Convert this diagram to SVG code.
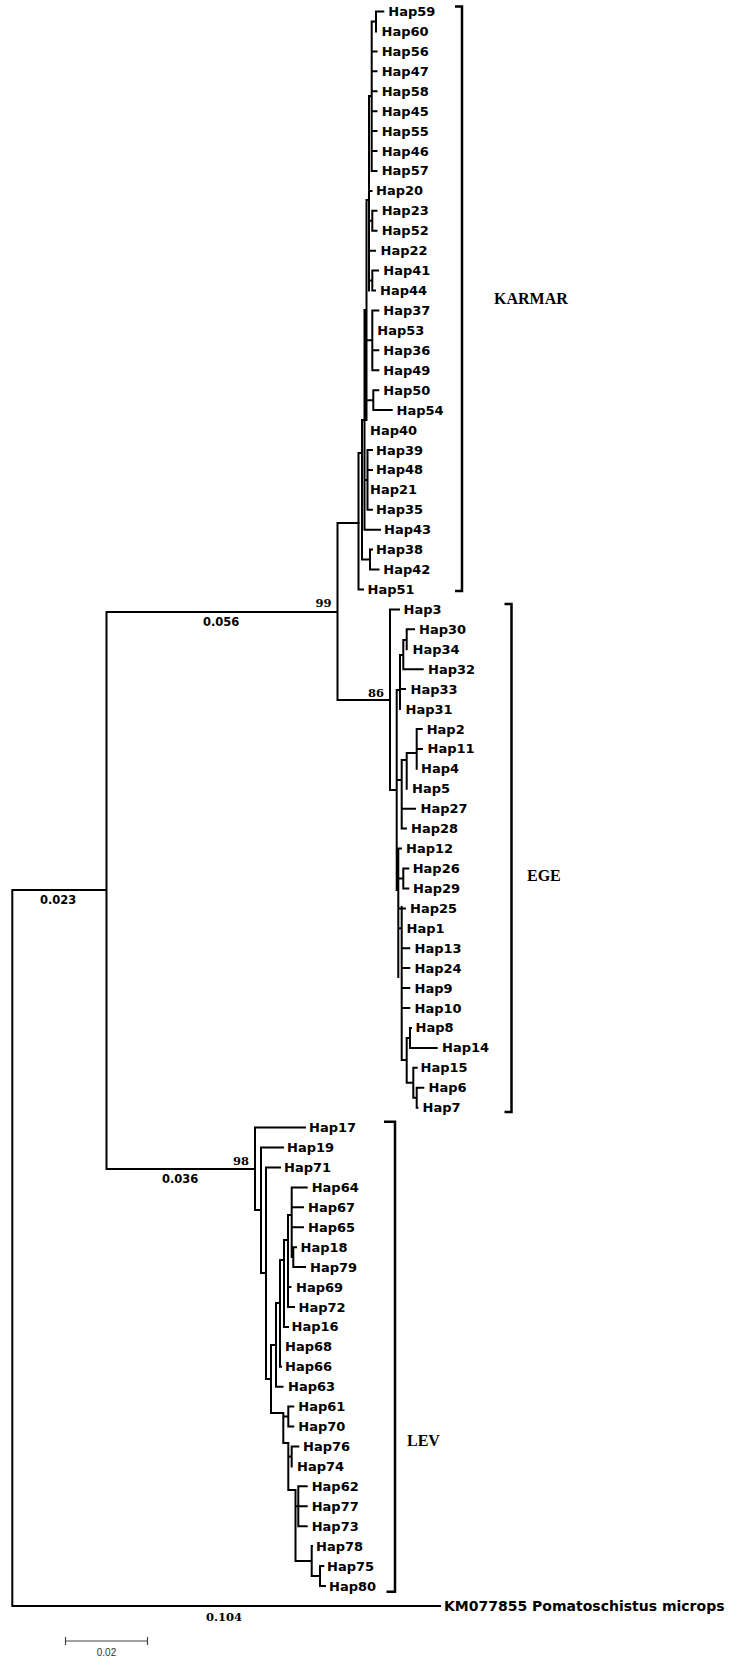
<svg xmlns="http://www.w3.org/2000/svg" width="730" height="1663" viewBox="0 0 730 1663">
<style>
.e{stroke:#000;stroke-width:2;fill:none;stroke-linecap:square}
.br{stroke:#000;stroke-width:2.5;fill:none}
.t{font-family:"DejaVu Sans",sans-serif;font-weight:bold;font-size:13px;fill:#000}
.og{font-family:"DejaVu Sans",sans-serif;font-weight:bold;font-size:14px;fill:#000}
.bl{font-family:"DejaVu Sans",sans-serif;font-weight:bold;font-size:11.5px;fill:#000}
.bs{font-family:"DejaVu Serif",serif;font-weight:bold;font-size:11.5px;fill:#000}
.cl{font-family:"Liberation Serif",serif;font-weight:bold;font-size:16px;fill:#000}
.sb{stroke:#444;stroke-width:1.2;fill:none}
.st{font-family:"Liberation Sans",sans-serif;font-size:10px;fill:#333}
</style>
<rect width="730" height="1663" fill="#fff"/>
<g id="connectors">
<path class="e" d="M12.3,890V1605.9M12.3,890H106.5M12.3,1605.9H440M106.5,612V1169M106.5,612H337.5M106.5,1169H255M337.5,523V700M337.5,523H358.5M337.5,700H390"/>
<path class="e" d="M358.5,453V589.5M358.5,589.5H363M358.5,453H362M362,420V559.5M362,559.5H370M370,549.6V569.5M370,549.6H372M370,569.5H378.5M362,420H364.5M364.5,310V529.7M364.5,529.7H380M364.5,480H367.5M367.5,450V509.8M367.5,450H372M367.5,469.9H372M367.5,509.8H372M364.5,310H366.5M366.5,200V420M366.5,340.3H372.3M372.3,310.5V370.2M372.3,310.5H378.3M372.3,350.3H378.3M372.3,370.2H378.3M366.5,400.2H373.3M373.3,390.2V410.1M373.3,390.2H378.3M373.3,410.1H391.7M366.5,200H369M369,96V290.5M369,190.9H371.5M369,220.8H372.3M372.3,210.8V230.7M372.3,210.8H376.5M372.3,230.7H376.5M369,250.7H375M369,280.5H372.3M372.3,270.6V290.5M372.3,270.6H378M372.3,290.5H375M369,96H371.7M371.7,21.5V170.9M371.7,51.4H376.5M371.7,71.3H376.5M371.7,91.2H376.5M371.7,111.2H376.5M371.7,131.1H376.5M371.7,151H376.5M371.7,170.9H376.5M371.7,21.5H376M376,11.5V31.4M376,11.5H383.3"/>
<path class="e" d="M390,609.4V790M390,609.4H399M390,790H396.7M396.7,690V890M396.7,690H400M400,655V709.1M400,655H403.3M403.3,640V669.2M403.3,640H406.7M406.7,629.3V649.3M406.7,629.3H414M403.3,669.2H422.7M400,689.1H405M396.7,780H401.7M401.7,760V828.6M401.7,760H406.7M406.7,753V788.8M406.7,753H416.7M416.7,729V768.8M416.7,729H421.7M416.7,748.9H422M401.7,808.7H415M401.7,828.6H406M398.3,848.6V977M398.3,848.6H401M398.3,878.5H403.3M403.3,868.5V888.4M403.3,868.5H408.3M403.3,888.4H408.3M398.3,908.4H405M398.3,928.3H401.5M401.7,907V1060M401.7,948.2H409.3M401.7,968.1H409.3M401.7,988.1H409.3M401.7,1008H409.3M401.7,1060H406.7M406.7,1038V1082.7M406.7,1038H410M410,1027.9V1047.9M410,1027.9H411M410,1047.9H436.7M406.7,1082.7H413.3M413.3,1067.8V1097.7M413.3,1067.8H416.7M413.3,1097.7H416.7M416.7,1087.7V1107.7M416.7,1087.7H423.3M416.7,1107.7H417.5"/>
<path class="e" d="M255,1127.6V1210M255,1127.6H305M255,1210H261M261,1147.5V1273M261,1147.5H283M261,1273H266M266,1167.4V1379M266,1167.4H280M266,1379H271M271,1345V1413M271,1345H276M276,1303V1386.7M276,1386.7H282.5M276,1303H280M280,1260V1366.7M280,1366.7H281M280,1260H284M284,1240V1326.9M284,1326.9H288M284,1240H288M288,1215V1307M288,1307H294M288,1287H290.5M288,1215H291.7M291.7,1187.4V1257M291.7,1187.4H306.7M291.7,1207.3H303M291.7,1227.2H303M291.7,1257H293.3M293.3,1247.2V1267.1M293.3,1247.2H296M293.3,1267.1H305M271,1413H283.3M283.3,1413V1443M283.3,1416.5H288.3M288.3,1406.6V1426.5M288.3,1406.6H293.3M288.3,1426.5H293.3M283.3,1443H288.3M288.3,1443V1490M288.3,1456.5H291.7M291.7,1446.5V1466.4M291.7,1446.5H298.3M288.3,1490H295.5M295.5,1490V1561M295.5,1506.3H298.3M298.3,1486.3V1526.2M298.3,1486.3H306.7M298.3,1506.3H306.7M298.3,1526.2H306.7M295.5,1561H311.7M311.7,1546.1V1576M311.7,1546.1H312M311.7,1576H320M320,1566V1586M320,1566H323.3M320,1586H325"/>
</g>
<g id="brackets">
<path class="br" d="M455,6.5H462V591H455"/>
<path class="br" d="M504.5,604H511.5V1112H504.5"/>
<path class="br" d="M384,1121.7H395V1591.7H386.5"/>
</g>
<g id="clade-labels">
<text class="cl" x="494" y="303.5">KARMAR</text>
<text class="cl" x="527" y="881">EGE</text>
<text class="cl" x="407" y="1445.5">LEV</text>
</g>
<g id="branch-labels">
<text class="bs" x="315.5" y="607">99</text>
<text class="bs" x="368" y="697">86</text>
<text class="bs" x="233" y="1164.7">98</text>
<text class="bl" x="203" y="626">0.056</text>
<text class="bl" x="40" y="904">0.023</text>
<text class="bl" x="162" y="1183.3">0.036</text>
<text class="bs" x="206" y="1621">0.104</text>
</g>
<g id="karmar">
<g id="n-Hap59"><text class="t" x="388.3" y="16">Hap59</text></g>
<g id="n-Hap60"><text class="t" x="381.5" y="35.9">Hap60</text></g>
<g id="n-Hap56"><text class="t" x="381.7" y="55.9">Hap56</text></g>
<g id="n-Hap47"><text class="t" x="381.7" y="75.8">Hap47</text></g>
<g id="n-Hap58"><text class="t" x="381.7" y="95.7">Hap58</text></g>
<g id="n-Hap45"><text class="t" x="381.7" y="115.7">Hap45</text></g>
<g id="n-Hap55"><text class="t" x="381.7" y="135.6">Hap55</text></g>
<g id="n-Hap46"><text class="t" x="381.7" y="155.5">Hap46</text></g>
<g id="n-Hap57"><text class="t" x="381.7" y="175.4">Hap57</text></g>
<g id="n-Hap20"><text class="t" x="376" y="195.4">Hap20</text></g>
<g id="n-Hap23"><text class="t" x="381.7" y="215.3">Hap23</text></g>
<g id="n-Hap52"><text class="t" x="381.7" y="235.2">Hap52</text></g>
<g id="n-Hap22"><text class="t" x="380.5" y="255.2">Hap22</text></g>
<g id="n-Hap41"><text class="t" x="383.3" y="275.1">Hap41</text></g>
<g id="n-Hap44"><text class="t" x="380" y="295">Hap44</text></g>
<g id="n-Hap37"><text class="t" x="383.3" y="315">Hap37</text></g>
<g id="n-Hap53"><text class="t" x="377.3" y="334.9">Hap53</text></g>
<g id="n-Hap36"><text class="t" x="383.3" y="354.8">Hap36</text></g>
<g id="n-Hap49"><text class="t" x="383.3" y="374.7">Hap49</text></g>
<g id="n-Hap50"><text class="t" x="383.3" y="394.7">Hap50</text></g>
<g id="n-Hap54"><text class="t" x="396.5" y="414.6">Hap54</text></g>
<g id="n-Hap40"><text class="t" x="370" y="434.5">Hap40</text></g>
<g id="n-Hap39"><text class="t" x="376" y="454.5">Hap39</text></g>
<g id="n-Hap48"><text class="t" x="376" y="474.4">Hap48</text></g>
<g id="n-Hap21"><text class="t" x="370" y="494.3">Hap21</text></g>
<g id="n-Hap35"><text class="t" x="376" y="514.3">Hap35</text></g>
<g id="n-Hap43"><text class="t" x="384" y="534.2">Hap43</text></g>
<g id="n-Hap38"><text class="t" x="376" y="554.1">Hap38</text></g>
<g id="n-Hap42"><text class="t" x="383.3" y="574">Hap42</text></g>
<g id="n-Hap51"><text class="t" x="367.5" y="594">Hap51</text></g>
</g>
<g id="ege">
<g id="n-Hap3"><text class="t" x="403.5" y="613.9">Hap3</text></g>
<g id="n-Hap30"><text class="t" x="419" y="633.8">Hap30</text></g>
<g id="n-Hap34"><text class="t" x="412.5" y="653.8">Hap34</text></g>
<g id="n-Hap32"><text class="t" x="428" y="673.7">Hap32</text></g>
<g id="n-Hap33"><text class="t" x="410.5" y="693.6">Hap33</text></g>
<g id="n-Hap31"><text class="t" x="405.5" y="713.6">Hap31</text></g>
<g id="n-Hap2"><text class="t" x="426.7" y="733.5">Hap2</text></g>
<g id="n-Hap11"><text class="t" x="427.5" y="753.4">Hap11</text></g>
<g id="n-Hap4"><text class="t" x="421" y="773.3">Hap4</text></g>
<g id="n-Hap5"><text class="t" x="412" y="793.3">Hap5</text></g>
<g id="n-Hap27"><text class="t" x="420.5" y="813.2">Hap27</text></g>
<g id="n-Hap28"><text class="t" x="411" y="833.1">Hap28</text></g>
<g id="n-Hap12"><text class="t" x="406" y="853.1">Hap12</text></g>
<g id="n-Hap26"><text class="t" x="412.7" y="873">Hap26</text></g>
<g id="n-Hap29"><text class="t" x="413" y="892.9">Hap29</text></g>
<g id="n-Hap25"><text class="t" x="410" y="912.9">Hap25</text></g>
<g id="n-Hap1"><text class="t" x="406.5" y="932.8">Hap1</text></g>
<g id="n-Hap13"><text class="t" x="414.5" y="952.7">Hap13</text></g>
<g id="n-Hap24"><text class="t" x="414.5" y="972.6">Hap24</text></g>
<g id="n-Hap9"><text class="t" x="414.5" y="992.6">Hap9</text></g>
<g id="n-Hap10"><text class="t" x="414.5" y="1012.5">Hap10</text></g>
<g id="n-Hap8"><text class="t" x="415.5" y="1032.4">Hap8</text></g>
<g id="n-Hap14"><text class="t" x="442" y="1052.4">Hap14</text></g>
<g id="n-Hap15"><text class="t" x="420.5" y="1072.3">Hap15</text></g>
<g id="n-Hap6"><text class="t" x="428.5" y="1092.2">Hap6</text></g>
<g id="n-Hap7"><text class="t" x="422.5" y="1112.2">Hap7</text></g>
</g>
<g id="lev">
<g id="n-Hap17"><text class="t" x="309" y="1132.1">Hap17</text></g>
<g id="n-Hap19"><text class="t" x="287" y="1152">Hap19</text></g>
<g id="n-Hap71"><text class="t" x="284" y="1171.9">Hap71</text></g>
<g id="n-Hap64"><text class="t" x="311.7" y="1191.9">Hap64</text></g>
<g id="n-Hap67"><text class="t" x="308" y="1211.8">Hap67</text></g>
<g id="n-Hap65"><text class="t" x="308" y="1231.7">Hap65</text></g>
<g id="n-Hap18"><text class="t" x="300.5" y="1251.7">Hap18</text></g>
<g id="n-Hap79"><text class="t" x="310" y="1271.6">Hap79</text></g>
<g id="n-Hap69"><text class="t" x="296" y="1291.5">Hap69</text></g>
<g id="n-Hap72"><text class="t" x="298.5" y="1311.5">Hap72</text></g>
<g id="n-Hap16"><text class="t" x="291.5" y="1331.4">Hap16</text></g>
<g id="n-Hap68"><text class="t" x="285" y="1351.3">Hap68</text></g>
<g id="n-Hap66"><text class="t" x="285" y="1371.2">Hap66</text></g>
<g id="n-Hap63"><text class="t" x="288" y="1391.2">Hap63</text></g>
<g id="n-Hap61"><text class="t" x="298.3" y="1411.1">Hap61</text></g>
<g id="n-Hap70"><text class="t" x="298.3" y="1431">Hap70</text></g>
<g id="n-Hap76"><text class="t" x="303" y="1451">Hap76</text></g>
<g id="n-Hap74"><text class="t" x="297" y="1470.9">Hap74</text></g>
<g id="n-Hap62"><text class="t" x="311.7" y="1490.8">Hap62</text></g>
<g id="n-Hap77"><text class="t" x="311.7" y="1510.8">Hap77</text></g>
<g id="n-Hap73"><text class="t" x="311.7" y="1530.7">Hap73</text></g>
<g id="n-Hap78"><text class="t" x="316" y="1550.6">Hap78</text></g>
<g id="n-Hap75"><text class="t" x="327" y="1570.5">Hap75</text></g>
<g id="n-Hap80"><text class="t" x="329" y="1590.5">Hap80</text></g>
</g>
<g id="outgroup"><text class="og" x="444" y="1610.6">KM077855 Pomatoschistus microps</text></g>
<g id="scale-bar">
<path class="sb" d="M65.5,1641H147.5M65.5,1637V1645M147.5,1637V1645"/>
<text class="st" x="106.5" y="1656" text-anchor="middle">0.02</text>
</g>
</svg>
